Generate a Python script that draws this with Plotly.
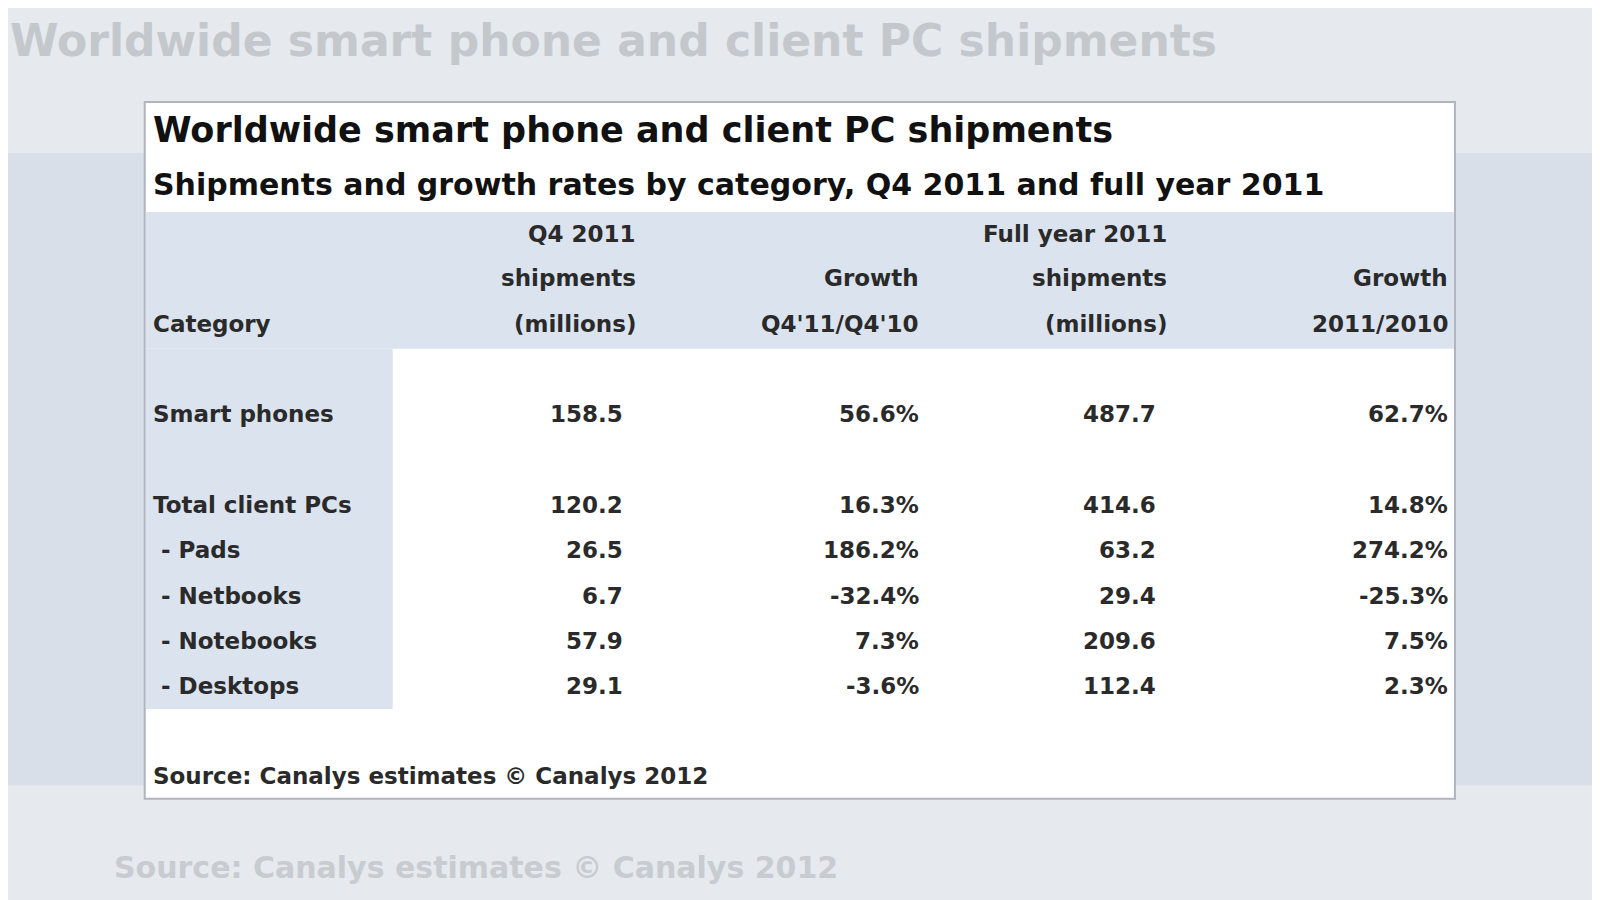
import plotly.graph_objects as go

title = "Worldwide smart phone and client PC shipments"
subtitle = "Shipments and growth rates by category, Q4 2011 and full year 2011"
categories = ["Smart phones", "Total client PCs", " - Pads", " - Netbooks", " - Notebooks", " - Desktops"]
q4_ship = ["158.5", "120.2", "26.5", "6.7", "57.9", "29.1"]
q4_growth = ["56.6%", "16.3%", "186.2%", "-32.4%", "7.3%", "-3.6%"]
fy_ship = ["487.7", "414.6", "63.2", "29.4", "209.6", "112.4"]
fy_growth = ["62.7%", "14.8%", "274.2%", "-25.3%", "7.5%", "2.3%"]
headers = [["", "", "Category"], ["Q4 2011", "shipments", "(millions)"], ["", "Growth", "Q4'11/Q4'10"],
           ["Full year 2011", "shipments", "(millions)"], ["", "Growth", "2011/2010"]]
source = "Source: Canalys estimates © Canalys 2012"

def c(v):  # reference-screenshot pixel -> page pixel
    return (v - 8) / 0.98

row_y = [406, 495, 539, 584, 628, 672]
head_y = [229, 273, 318]
col_x = [148, 625, 903, 1146, 1421]
val_x = [148, 613, 903, 1135, 1421]
F = dict(family="DejaVu Sans", size=23, color="#2a2a2a", weight="bold")

fig = go.Figure()
def rect(x0, x1, y0, y1, fill, line=None):
    return dict(type="rect", x0=c(x0), x1=c(x1), y0=c(y0), y1=c(y1), fillcolor=fill,
                line=line or dict(width=0), layer="below")
shapes = [
    dict(type="rect", x0=0, x1=1600, y0=0, y1=900, fillcolor="#e6e9ee", line_width=0, layer="below"),
    rect(-10, 1700, 150, 770, "#d9dfe8"),
    rect(142, 1426, 100, 783, "white", dict(color="#b0b4bc", width=2)),
    rect(143, 1425, 208, 342, "#dbe3ee"),
    rect(143, 385, 342, 695, "#dbe3ee"),
]
ann = []
def t(x, y, s, anchor="left", **kw):
    f = dict(F); f.update(kw)
    ann.append(dict(x=c(x), y=c(y), text=s, xanchor=anchor, yanchor="middle", showarrow=False, font=f))

t(8, 40, title, size=44, color="#c4c8cc")
t(110, 850, source, size=30, color="#c8ccd0")

t(148, 128, title, size=35, color="#111")
t(148, 181, subtitle, size=30, color="#111")
for ci, h in enumerate(headers):
    for ri, s in enumerate(h):
        if s:
            t(col_x[ci], head_y[ri], s, "left" if ci == 0 else "right")
cols = [categories, q4_ship, q4_growth, fy_ship, fy_growth]
for ci, col in enumerate(cols):
    for ri, s in enumerate(col):
        t(val_x[ci], row_y[ri], s.replace(" ", "&nbsp;"), "left" if ci == 0 else "right")
t(148, 761, source)

fig.update_layout(width=1600, height=900, margin=dict(l=0, r=0, t=0, b=0),
                  shapes=shapes, annotations=ann, plot_bgcolor="white", paper_bgcolor="#e6e9ee",
                  xaxis=dict(range=[0, 1600], visible=False, fixedrange=True),
                  yaxis=dict(range=[900, 0], visible=False, fixedrange=True), showlegend=False)
fig.write_html("out.html")
